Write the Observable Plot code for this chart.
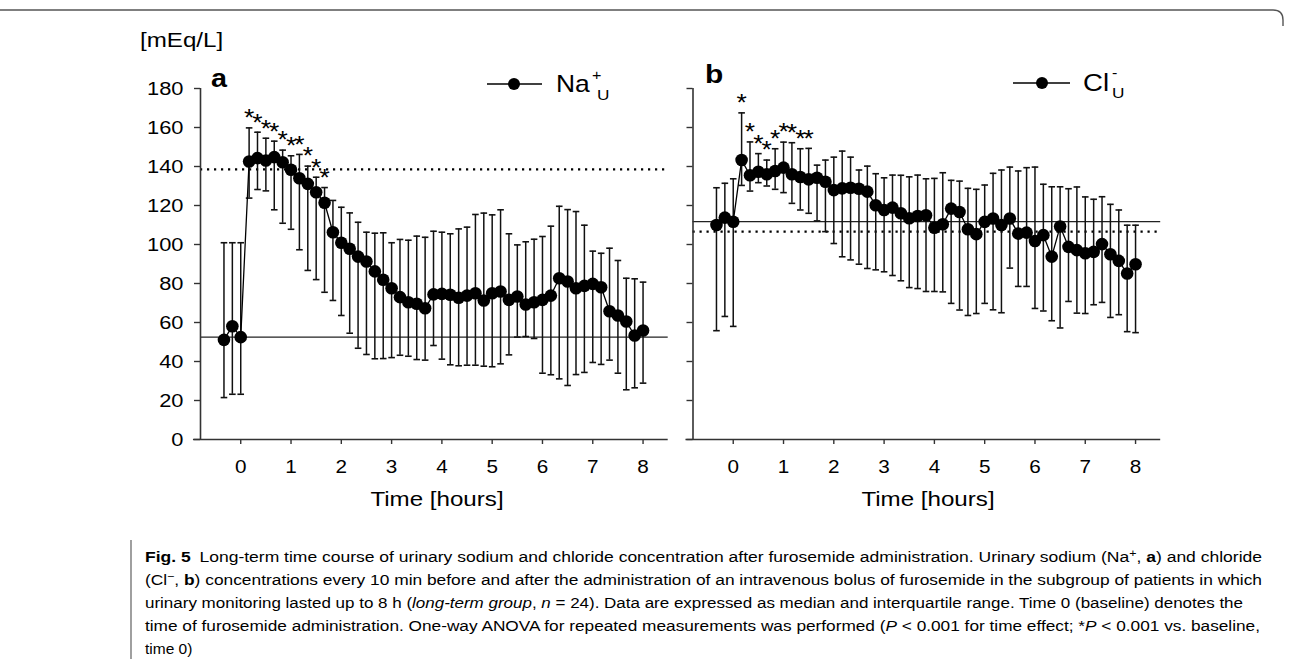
<!DOCTYPE html>
<html><head><meta charset="utf-8">
<script src="https://cdn.jsdelivr.net/npm/d3@7"></script>
<script src="https://cdn.jsdelivr.net/npm/@observablehq/plot@0.6"></script>
<style>
body{margin:0;background:#fff;}
#page{position:relative;width:1290px;height:659px;overflow:hidden;background:#fff;}
.pl{position:absolute;top:0;}
#overlay{position:absolute;left:0;top:0;pointer-events:none;}
</style></head><body><div id="page">
<div id="pa" class="pl" style="left:0px;width:680px"></div>
<div id="pb" class="pl" style="left:600px;width:600px"></div>
<svg id="overlay" width="1290" height="659"></svg>
</div>
<script>
// ---- data (minutes relative to furosemide administration) ----
const minutes = [-20,-10,0,10,20,30,40,50,60,70,80,90,100,110,120,130,140,150,160,170,180,190,200,210,220,230,240,250,260,270,280,290,300,310,320,330,340,350,360,370,380,390,400,410,420,430,440,450,460,470,480];

const naMedian = [51.1,58.1,52.5,142.6,144.3,143.1,144.8,142.2,138.3,134.0,131.1,126.8,121.4,106.3,100.9,97.8,93.8,91.3,86.2,81.9,77.6,73.0,70.4,69.6,67.3,74.4,74.7,74.2,72.7,73.8,75.0,71.3,75.0,75.9,71.6,73.3,69.2,70.4,71.6,73.8,82.7,81.0,77.6,78.8,79.8,78.1,65.8,63.6,60.5,53.3,55.9];
const naQ3 = [100.9,100.9,100.9,159.8,157.6,154.5,153.0,148.4,145.5,146.2,140.2,134.5,129.2,122.6,119.1,116.2,111.4,106.3,105.8,106.0,100.9,102.6,102.2,104.3,103.7,106.8,106.3,105.5,108.0,108.9,115.4,116.1,115.2,117.8,105.5,99.8,101.4,102.7,104.1,109.4,119.6,117.9,116.9,109.9,96.6,95.5,98.1,91.8,82.7,82.4,80.7];
const naQ1 = [21.5,23.2,23.2,123.8,128.2,127.5,117.8,110.9,107.8,97.3,86.7,82.0,75.5,71.3,63.6,54.5,46.8,43.6,41.4,41.5,42.0,43.2,42.7,41.0,40.7,48.2,41.2,38.3,37.8,38.1,38.1,37.6,37.3,38.8,43.4,52.5,52.8,51.8,34.0,33.2,31.1,27.7,33.3,34.4,39.5,38.5,40.7,34.0,25.5,26.5,28.9];

const clMedian = [110.0,113.8,111.7,143.3,135.5,137.3,136.0,137.7,139.4,136.0,134.6,133.4,134.2,132.2,127.9,128.8,129.1,128.6,127.1,120.1,117.7,118.9,116.0,113.5,114.6,115.0,108.6,110.4,118.4,116.7,107.8,105.3,111.6,113.3,110.0,113.3,105.6,106.1,101.8,104.8,93.8,109.2,98.8,97.1,95.5,96.2,100.2,95.0,91.6,85.1,89.9];
const clQ3 = [129.1,131.4,133.7,167.5,152.6,146.6,143.3,149.1,152.5,152.2,149.1,149.3,140.7,143.3,144.8,147.9,144.8,138.2,140.2,136.3,134.2,135.6,135.5,134.7,135.6,133.7,133.9,136.8,132.9,132.5,128.8,128.3,130.5,136.5,138.2,139.7,137.7,139.4,139.7,130.9,129.6,129.6,128.6,129.5,124.4,123.2,124.5,120.6,117.7,109.9,109.9];
const clQ1 = [55.8,63.1,58.0,130.3,127.4,131.7,130.0,128.3,126.6,121.1,117.7,116.0,112.1,106.6,100.5,93.7,92.1,89.9,87.7,87.0,86.0,84.1,81.4,77.9,77.4,75.9,75.9,75.7,69.8,66.4,63.6,64.6,69.8,66.5,65.0,87.9,78.5,78.5,67.2,65.9,60.9,57.2,70.8,64.8,64.6,69.1,70.3,62.6,64.0,55.3,54.8];

const naBaseline = 52.5, naReference = 138.5;
const clBaseline = 111.7, clReference = 106.6;
const naStarMinutes = [10,20,30,40,50,60,70,80,90,100];
const clStarMinutes = [10,20,30,40,50,60,70,80,90];

const xTicks = [0,1,2,3,4,5,6,7,8];
const yTicks = [0,20,40,60,80,100,120,140,160,180];
const xDomain = [-0.8, 8.5];
const yDomain = [0, 180];

// ---- drawing ----
const FONT = "'Liberation Sans', Arial, Helvetica, sans-serif";
const STRETCH = 1.15;
const PX_PER_HOUR = 50.29;
const capSymbol = {draw(ctx, size) { const w = Math.sqrt(size / Math.PI); ctx.moveTo(-w, 0); ctx.lineTo(w, 0); }};

function panel({median, q1, q3, baseline, reference, stars, showLabels, width, marginLeft}) {
  const rows = minutes.map((m, i) => ({h: m / 60, min: m, med: median[i], lo: q1[i], hi: q3[i]}));
  const starRows = rows.filter(r => stars.includes(r.min));
  const rangeW = (xDomain[1] - xDomain[0]) * PX_PER_HOUR;
  const svg = Plot.plot({
    width, height: 520,
    marginLeft, marginRight: width - marginLeft - rangeW, marginTop: 88, marginBottom: 81,
    x: {domain: xDomain},
    y: {domain: yDomain},
    style: {fontFamily: FONT, fontSize: "18px", color: "#000", background: "transparent", overflow: "visible"},
    marks: [
      Plot.ruleY([reference], {stroke: "#000", strokeWidth: 2.2, strokeDasharray: "2.2,4.8"}),
      Plot.ruleY([baseline], {stroke: "#222", strokeWidth: 1.3}),
      Plot.ruleX(rows, {x: "h", y1: "lo", y2: "hi", stroke: "#111", strokeWidth: 1.5}),
      Plot.dot(rows, {x: "h", y: "hi", symbol: capSymbol, r: 3.3, stroke: "#111", strokeWidth: 1.6, fill: "none"}),
      Plot.dot(rows, {x: "h", y: "lo", symbol: capSymbol, r: 3.3, stroke: "#111", strokeWidth: 1.6, fill: "none"}),
      Plot.line(rows, {x: "h", y: "med", stroke: "#000", strokeWidth: 1.3}),
      Plot.dot(rows, {x: "h", y: "med", r: 6.3, fill: "#000", stroke: "none"}),
      Plot.text(starRows, {x: "h", y: "hi", text: () => "*", dy: -9, fontSize: 23, fill: "#000"}),
      Plot.ruleX([xDomain[0]], {y1: yDomain[0], y2: yDomain[1], stroke: "#333", strokeWidth: 1.6}),
      Plot.ruleY([yDomain[0]], {x1: xDomain[0] - 0.14, x2: xDomain[1], stroke: "#333", strokeWidth: 1.6}),
      Plot.axisY({ticks: yTicks, tickSize: 6, tickPadding: 11, stroke: "#333", strokeWidth: 1.4, fontSize: 19,
                  tickFormat: showLabels ? (d => String(d)) : (() => ""), label: null}),
      Plot.axisX({ticks: xTicks, tickSize: 5, tickPadding: 16, stroke: "#333", strokeWidth: 1.4, fontSize: 18,
                  tickFormat: d => String(d), label: null})
    ]
  });
  svg.querySelectorAll("text").forEach(t => {
    const tr = t.getAttribute("transform");
    if (tr) t.setAttribute("transform", tr + ` scale(${STRETCH},1)`);
  });
  return svg;
}

document.getElementById("pa").appendChild(panel({median: naMedian, q1: naQ1, q3: naQ3, baseline: naBaseline,
  reference: naReference, stars: naStarMinutes, showLabels: true, width: 680, marginLeft: 200}));
document.getElementById("pb").appendChild(panel({median: clMedian, q1: clQ1, q3: clQ3, baseline: clBaseline,
  reference: clReference, stars: clStarMinutes, showLabels: false, width: 600, marginLeft: 92.5}));

// ---- page-level text and decorations ----
const ov = d3.select("#overlay");
ov.append("path").attr("d", "M0,10 H1273 Q1283,10 1283,20 V26").attr("fill", "none").attr("stroke", "#555").attr("stroke-width", 1.4);
ov.append("path").attr("d", "M131,540 V659").attr("fill", "none").attr("stroke", "#777").attr("stroke-width", 1.4);

function txt(x, y, size, weight, s, parts, anchor) {
  const t = ov.append("text").attr("transform", `translate(${x},${y}) scale(${s},1)`)
    .attr("font-family", FONT).attr("font-size", size).attr("font-weight", weight || "normal")
    .attr("text-anchor", anchor || "start").attr("fill", "#000");
  parts.forEach(p => {
    const ts = t.append("tspan").text(p.t);
    if (p.w) ts.attr("font-weight", p.w);
    if (p.i) ts.attr("font-style", "italic");
    if (p.dy) ts.attr("dy", p.dy);
    if (p.dx) ts.attr("dx", p.dx);
    if (p.fs) ts.attr("font-size", p.fs);
  });
  return t;
}
txt(140, 47, 21, "normal", STRETCH, [{t: "[mEq/L]"}]);
txt(211, 87, 25, "bold", STRETCH, [{t: "a"}]);
txt(705, 83, 26, "bold", STRETCH, [{t: "b"}]);
txt(437, 506, 21, "normal", STRETCH, [{t: "Time [hours]"}], "middle");
txt(928, 506, 21, "normal", STRETCH, [{t: "Time [hours]"}], "middle");

// legends
function legend(x1, x2, cx, cy) {
  ov.append("line").attr("x1", x1).attr("x2", x2).attr("y1", cy).attr("y2", cy).attr("stroke", "#000").attr("stroke-width", 1.4);
  ov.append("circle").attr("cx", cx).attr("cy", cy).attr("r", 6).attr("fill", "#000");
}
legend(487, 542, 514, 84);
legend(1013, 1070, 1042, 83);
txt(556, 92, 23, "normal", STRETCH, [{t: "Na"}]);
txt(592, 80, 14, "normal", STRETCH, [{t: "+"}]);
txt(597, 100, 15, "normal", STRETCH, [{t: "U"}]);
txt(1083, 91, 24, "normal", STRETCH, [{t: "Cl"}]);
txt(1112, 78, 14, "normal", STRETCH, [{t: "-"}]);
txt(1112, 98, 15, "normal", STRETCH, [{t: "U"}]);

// caption
const capLines = [
  {y: 562, w: 1117, parts: [{t: "Fig. 5", w: "bold"}, {t: "\u2002Long-term time course of urinary sodium and chloride concentration after furosemide administration. Urinary sodium (Na"}, {t: "+", dy: -5, fs: 11}, {t: ", ", dy: 5}, {t: "a", w: "bold"}, {t: ") and chloride"}]},
  {y: 585, w: 1117, parts: [{t: "(Cl"}, {t: "\u2212", dy: -5, fs: 11}, {t: ", ", dy: 5}, {t: "b", w: "bold"}, {t: ") concentrations every 10 min before and after the administration of an intravenous bolus of furosemide in the subgroup of patients in which"}]},
  {y: 608, w: 1098, parts: [{t: "urinary monitoring lasted up to 8 h ("}, {t: "long-term group", i: true}, {t: ", "}, {t: "n", i: true}, {t: " = 24). Data are expressed as median and interquartile range. Time 0 (baseline) denotes the"}]},
  {y: 631, w: 1115, parts: [{t: "time of furosemide administration. One-way ANOVA for repeated measurements was performed ("}, {t: "P", i: true}, {t: " < 0.001 for time effect; *"}, {t: "P", i: true}, {t: " < 0.001 vs. baseline,"}]},
  {y: 654, w: null, parts: [{t: "time 0)"}]}
];
capLines.forEach(L => {
  const t = txt(145, L.y, 15.5, "normal", 1, L.parts);
  if (L.w) t.attr("textLength", L.w).attr("lengthAdjust", "spacingAndGlyphs");
});
</script></body></html>
